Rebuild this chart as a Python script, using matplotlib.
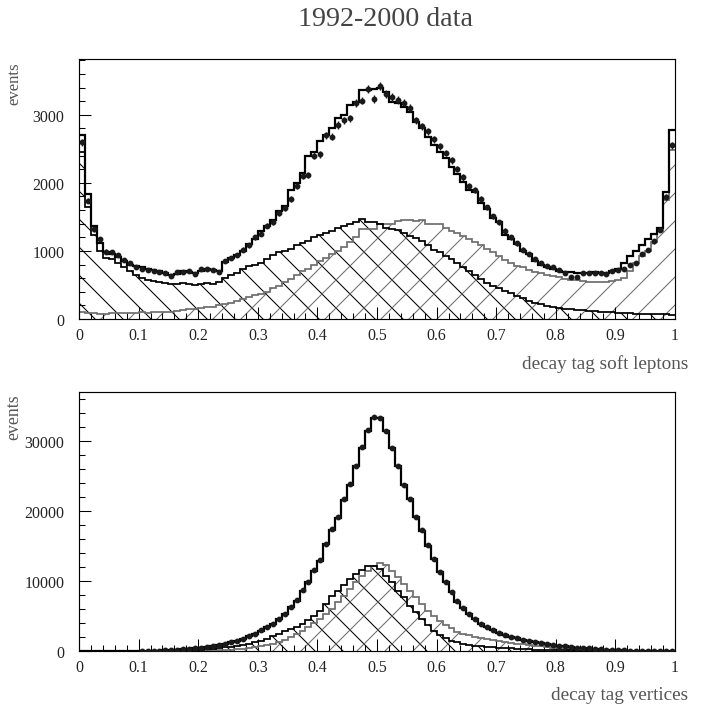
import numpy as np
import matplotlib
matplotlib.use("Agg")
import matplotlib.pyplot as plt
from matplotlib.ticker import MultipleLocator, FixedLocator, FixedFormatter

# ---------------- data (100 bins from 0 to 1) ----------------
bin_edges = np.linspace(0.0, 1.0, 101)

# top panel: decay tag soft leptons
top_total = [2700, 1830, 1360, 1120, 990, 960, 910, 850, 800, 780,
             760, 740, 720, 700, 680, 650, 660, 700, 690, 680,
             700, 740, 720, 700, 840, 900, 940, 1000, 1100, 1180,
             1300, 1370, 1450, 1580, 1660, 1900, 2000, 2150, 2400, 2450,
             2620, 2700, 2800, 2950, 3000, 3150, 3190, 3370, 3370, 3380,
             3390, 3330, 3190, 3180, 3120, 3040, 2900, 2800, 2680, 2560,
             2450, 2360, 2240, 2130, 2020, 1900, 1860, 1700, 1610, 1480,
             1420, 1230, 1180, 1100, 1000, 950, 850, 800, 760, 730,
             710, 690, 690, 680, 680, 675, 690, 675, 680, 700,
             740, 830, 930, 1000, 1080, 1180, 1250, 1330, 1870, 2780]
top_data = [2600, 1740, 1320, 1170, 990, 980, 940, 860, 820, 770,
            740, 720, 710, 690, 680, 630, 690, 690, 700, 660,
            730, 740, 720, 690, 850, 900, 940, 1020, 1080, 1200,
            1250, 1370, 1420, 1560, 1630, 1760, 1950, 2100, 2120, 2400,
            2420, 2700, 2680, 2850, 2920, 2950, 3170, 3210, 3380, 3230,
            3420, 3300, 3260, 3220, 3180, 3100, 2920, 2830, 2760, 2640,
            2540, 2440, 2330, 2200, 2080, 1960, 1900, 1760, 1640, 1510,
            1420, 1300, 1200, 1110, 1020, 950, 880, 820, 780, 760,
            720, 680, 620, 620, 680, 670, 680, 680, 660, 700,
            720, 740, 790, 830, 960, 1010, 1140, 1310, 1790, 2550]
top_comp_a = [2450, 1650, 1230, 1000, 900, 880, 820, 760, 700, 640,
              600, 580, 560, 540, 530, 515, 520, 530, 510, 500,
              515, 530, 520, 540, 600, 640, 680, 730, 780, 800,
              830, 880, 940, 990, 1000, 1030, 1080, 1120, 1150, 1200,
              1230, 1260, 1300, 1330, 1370, 1400, 1420, 1470, 1430, 1420,
              1400, 1330, 1320, 1310, 1260, 1220, 1190, 1150, 1080, 1020,
              980, 930, 880, 820, 760, 700, 640, 590, 530, 480,
              450, 410, 380, 340, 310, 270, 240, 220, 190, 180,
              165, 150, 140, 130, 125, 120, 115, 110, 105, 100,
              95, 90, 85, 80, 78, 75, 72, 70, 70, 65]
top_comp_b = [100, 95, 85, 80, 70, 85, 95, 90, 85, 95,
              100, 95, 100, 110, 100, 105, 115, 130, 140, 150,
              160, 170, 180, 200, 220, 240, 270, 300, 330, 350,
              370, 400, 450, 490, 540, 590, 640, 700, 740, 800,
              850, 900, 960, 1000, 1060, 1130, 1200, 1320, 1320, 1320,
              1390, 1400, 1400, 1440, 1450, 1450, 1440, 1450, 1400, 1400,
              1390, 1340, 1300, 1260, 1220, 1170, 1130, 1080, 1030, 980,
              930, 860, 830, 780, 760, 720, 690, 670, 640, 630,
              610, 590, 580, 570, 555, 550, 550, 550, 548, 560,
              570, 600, 700, 830, 920, 1000, 1130, 1300, 1750, 2480]

# bottom panel: decay tag vertices
bot_total = [0, 0, 0, 0, 0, 0, 0, 0, 0, 0,
             10, 20, 30, 50, 80, 120, 170, 230, 300, 380,
             470, 570, 710, 860, 1000, 1240, 1480, 1710, 2100, 2430,
             2900, 3380, 3860, 4570, 5290, 6240, 7190, 8620, 9810, 11480,
             12900, 15290, 17300, 19000, 21600, 23700, 26380, 29000, 31480, 33290,
             33290, 31480, 29000, 26480, 23710, 21700, 19100, 17190, 15050, 13140,
             11240, 9810, 8480, 7050, 6100, 5290, 4570, 3860, 3380, 2950,
             2600, 2300, 2000, 1800, 1600, 1420, 1260, 1120, 990, 870,
             760, 660, 570, 490, 420, 350, 290, 240, 190, 150,
             110, 80, 60, 40, 30, 20, 12, 8, 4, 2]
bot_data = [0, 0, 0, 0, 0, 0, 0, 0, 0, 0,
            10, 20, 35, 55, 85, 125, 180, 240, 310, 390,
            480, 590, 720, 880, 1030, 1260, 1500, 1750, 2130, 2470,
            2950, 3420, 3900, 4630, 5330, 6300, 7250, 8700, 9850, 11550,
            12950, 15350, 17400, 19100, 21700, 23800, 26450, 29100, 31550, 33400,
            33350, 31500, 29050, 26500, 23750, 21750, 19150, 17250, 15100, 13200,
            11300, 9850, 8500, 7100, 6150, 5300, 4600, 3900, 3400, 2980,
            2620, 2320, 2020, 1820, 1620, 1430, 1270, 1130, 1000, 880,
            770, 670, 580, 500, 430, 360, 300, 245, 195, 155,
            115, 85, 62, 42, 32, 21, 13, 8, 4, 2]
bot_comp_a = [0, 0, 0, 0, 0, 0, 0, 0, 0, 0,
              0, 0, 5, 10, 20, 35, 55, 80, 110, 150,
              200, 260, 340, 430, 530, 640, 760, 880, 1050, 1250,
              1480, 1750, 2100, 2430, 2800, 3200, 3500, 3860, 4400, 5000,
              5760, 6700, 7900, 8620, 9430, 10290, 11000, 11570, 12190, 12100,
              11710, 10760, 9810, 8620, 7670, 6480, 5520, 4570, 3710, 2900,
              2330, 1810, 1500, 1250, 1050, 900, 780, 680, 600, 530,
              470, 420, 370, 320, 280, 240, 210, 180, 150, 130,
              110, 90, 75, 60, 50, 40, 30, 20, 15, 10,
              5, 5, 3, 2, 1, 0, 0, 0, 0, 0]
bot_comp_b = [0, 0, 0, 0, 0, 0, 0, 0, 0, 0,
              0, 0, 0, 0, 5, 10, 15, 20, 30, 40,
              50, 70, 90, 120, 160, 210, 270, 340, 430, 540,
              680, 850, 1050, 1300, 1600, 1950, 2400, 2900, 3450, 4000,
              4600, 5300, 6000, 6950, 7900, 8860, 9810, 10760, 11480, 12190,
              12520, 12280, 11480, 10520, 9570, 8620, 7670, 6710, 5760, 5050,
              4330, 3710, 3240, 2760, 2500, 2250, 2050, 1880, 1720, 1570,
              1430, 1300, 1180, 1060, 950, 850, 750, 660, 580, 500,
              430, 370, 310, 260, 210, 170, 130, 100, 75, 55,
              40, 28, 18, 10, 5, 2, 0, 0, 0, 0]

x_tick_vals = [0.0, 0.1, 0.2, 0.3, 0.4, 0.5, 0.6, 0.7, 0.8, 0.9, 1.0]
x_tick_labels = ["0", "0.1", "0.2", "0.3", "0.4", "0.5", "0.6", "0.7", "0.8", "0.9", "1"]
top_y_ticks = [0, 1000, 2000, 3000]
bot_y_ticks = [0, 10000, 20000, 30000]

title_text = "1992-2000 data"
top_xlabel = "decay tag soft leptons"
bot_xlabel = "decay tag vertices"
ylabel_text = "events"

# ---------------- style ----------------
DPI = 168
W, H = 702, 711
plt.rcParams["font.family"] = ["Liberation Serif", "DejaVu Serif"]
plt.rcParams["hatch.linewidth"] = 0.45
TXT = "#222222"
GRAY = "#6e6e6e"

fig = plt.figure(figsize=(W / DPI, H / DPI), dpi=DPI)

def px_axes(left, top, right, bottom):
    return fig.add_axes([left / W, 1 - bottom / H, (right - left) / W, (bottom - top) / H])

ax_top = px_axes(79, 60, 675, 320)
ax_bot = px_axes(79, 393, 675, 652)

centers = 0.5 * (bin_edges[:-1] + bin_edges[1:])

def draw_panel(ax, total, data, comp_a, comp_b, ymax, yticks, ymin_step, ms):
    # hatched fills
    ax.stairs(comp_a, bin_edges, baseline=0, fill=True, facecolor="none",
              edgecolor="black", linewidth=0, hatch="\\\\", zorder=1)
    ax.stairs(comp_b, bin_edges, baseline=0, fill=True, facecolor="none",
              edgecolor=GRAY, linewidth=0, hatch="//", zorder=1)
    # outlines
    ax.stairs(comp_b, bin_edges, baseline=None, color=GRAY, linewidth=0.75, zorder=2)
    ax.stairs(comp_a, bin_edges, baseline=None, color="black", linewidth=0.75, zorder=3)
    ax.stairs(total, bin_edges, baseline=None, color="black", linewidth=0.95, zorder=4)
    d = np.asarray(data, dtype=float)
    keep = d > 0
    ax.errorbar(centers[keep], d[keep], yerr=np.sqrt(d[keep]), fmt="o", color="#1a1a1a",
                markersize=ms, elinewidth=0.6, capsize=0, zorder=5)

    ax.set_xlim(0, 1)
    ax.set_ylim(0, ymax)
    ax.xaxis.set_major_locator(FixedLocator(x_tick_vals))
    ax.xaxis.set_major_formatter(FixedFormatter(x_tick_labels))
    ax.xaxis.set_minor_locator(MultipleLocator(0.02))
    ax.yaxis.set_major_locator(FixedLocator(yticks))
    ax.yaxis.set_major_formatter(FixedFormatter([str(v) for v in yticks]))
    ax.yaxis.set_minor_locator(MultipleLocator(ymin_step))
    ax.tick_params(which="both", direction="in", top=False, right=False,
                   colors="black", labelcolor=TXT, width=0.45, labelsize=6.8)
    ax.tick_params(which="major", length=5.0)
    ax.tick_params(which="minor", length=2.6)
    ax.tick_params(axis="x", pad=3.6)
    ax.tick_params(axis="y", pad=6.3)
    for s in ax.spines.values():
        s.set_linewidth(0.5)

draw_panel(ax_top, top_total, top_data, top_comp_a, top_comp_b, 3820, top_y_ticks, 200, 1.5)
draw_panel(ax_bot, bot_total, bot_data, bot_comp_a, bot_comp_b, 37000, bot_y_ticks, 2000, 1.5)

fig.text(385 / W, 1 - 20 / H, title_text, ha="center", va="center", fontsize=12.0, color="#444444")
fig.text(14 / W, 1 - 62 / H, ylabel_text, rotation=90, ha="center", va="top", fontsize=7.2, color="#555555")
fig.text(14 / W, 1 - 394 / H, ylabel_text, rotation=90, ha="center", va="top", fontsize=7.6, color="#555555")
fig.text(688 / W, 1 - 364 / H, top_xlabel, ha="right", va="center", fontsize=8.2, color="#555555")
fig.text(688 / W, 1 - 696 / H, bot_xlabel, ha="right", va="center", fontsize=8.2, color="#555555")

fig.savefig("out.png", dpi=DPI, facecolor="white")
